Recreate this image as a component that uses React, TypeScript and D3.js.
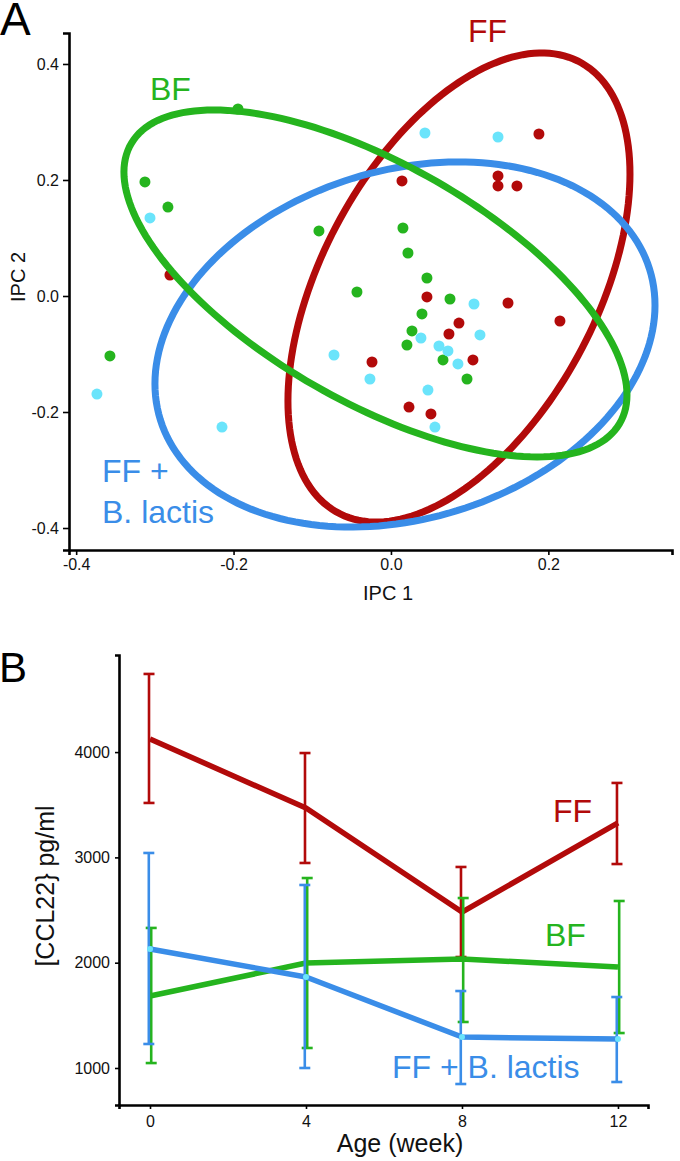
import { useEffect, useRef } from 'react'
import * as d3 from 'd3'

// Panel A: IPC scores per feeding group
const ffScores: [number, number][] = [
  [-0.2808, 0.0362], [0.014, 0.1983], [0.136, 0.2069], [0.136, 0.1897], [0.1601, 0.1897],
  [0.188, 0.2793], [0.0457, -0.0017], [0.1487, -0.0121], [0.2147, -0.0431], [0.0864, -0.0466],
  [0.0737, -0.0655], [0.1042, -0.1103], [-0.0241, -0.1138], [0.0229, -0.1914], [0.0508, -0.2034],
]
const bfScores: [number, number][] = [
  [-0.1944, 0.3224], [-0.3126, 0.1966], [-0.2834, 0.1534], [-0.0915, 0.1121], [-0.3571, -0.1034],
  [0.0152, 0.1172], [0.0216, 0.0741], [0.0457, 0.031], [-0.0432, 0.0069], [0.075, -0.0052],
  [0.0394, -0.031], [0.0267, -0.0603], [0.0203, -0.0845], [0.0661, -0.1103], [0.0966, -0.1431],
]
const blScores: [number, number][] = [
  [-0.3062, 0.1345], [-0.3736, -0.169], [-0.2147, -0.2259], [-0.0724, -0.1017], [0.0432, 0.281],
  [0.136, 0.2741], [0.1055, -0.0138], [0.0381, -0.0724], [0.1131, -0.0672], [0.061, -0.0862],
  [0.0724, -0.0948], [0.0851, -0.1172], [0.047, -0.1621], [0.0559, -0.2259], [-0.0267, -0.1431],
]

// ellipse centre, half-extent in x / y, and correlation (FF, BF, FF + B. lactis)
const ellipseCentre: [number, number][] = [[0.0864, 0.0147], [-0.0197, 0.0216], [0.0178, -0.0836]]
const ellipseSpread: [number, number][] = [[0.2173, 0.4043], [0.3196, 0.2991], [0.3177, 0.3147]]
const ellipseCorr = [0.484, -0.642, 0.215]

const ipc1Ticks = [-0.4, -0.2, 0, 0.2]
const ipc2Ticks = [-0.4, -0.2, 0, 0.2, 0.4]

// Panel B: CCL22 by age
const weeks = [0, 4, 8, 12]
const ffMean = [4124, 3469, 2481, 3327]
const ffUpper = [4742, 3991, 2909, 3707]
const ffLower = [3517, 2947, 2054, 2937]
const bfMean = [1684, 1997, 2035, 1959]
const bfUpper = [2330, 2804, 2614, 2586]
const bfLower = [1047, 1190, 1437, 1332]
const blMean = [2130, 1864, 1294, 1275]
const blUpper = [3042, 2738, 1731, 1674]
const blLower = [1228, 1000, 848, 867]
const ccl22Ticks = [1000, 2000, 3000, 4000]

const RED = '#b20a0a'
const GREEN = '#25b41e'
const BLUE = '#3a8de8'
const CYAN = '#6ae4fb'
const FONT = '"Liberation Sans", Arial, Helvetica, sans-serif'

export default function App() {
  const svgRef = useRef<SVGSVGElement>(null)

  useEffect(() => {
    if (!svgRef.current) return
    document.body.style.margin = '0'
    const svg = d3.select(svgRef.current)
    svg.selectAll('*').remove()
    svg.attr('width', 680).attr('height', 1161).style('font-family', FONT)

    // ---------- Panel A ----------
    const xA = d3.scaleLinear().domain([-0.4091, 0.3571]).range([69, 672])
    const yA = d3.scaleLinear().domain([-0.4379, 0.4534]).range([550, 33])

    const styleAxis = (g: d3.Selection<SVGGElement, unknown, null, undefined>, size: number) => {
      g.select('.domain').attr('stroke', '#000').attr('stroke-width', 2.6)
      g.selectAll('.tick line').attr('stroke', '#000').attr('stroke-width', 1.6)
      g.selectAll('.tick text').attr('fill', '#111').attr('font-size', size).attr('font-family', FONT)
    }

    const fmtA = (d: d3.NumberValue) => d3.format('.1f')(d as number).replace('\u2212', '-')

    svg.append('g')
      .attr('transform', 'translate(0,550)')
      .call(d3.axisBottom(xA).tickValues(ipc1Ticks).tickFormat(fmtA).tickSizeOuter(0).tickSize(5).tickPadding(4))
      .call((g) => styleAxis(g, 16))
    svg.append('g')
      .attr('transform', 'translate(69,0)')
      .call(d3.axisLeft(yA).tickValues(ipc2Ticks).tickFormat(fmtA).tickSizeOuter(0).tickSize(6).tickPadding(4))
      .call((g) => styleAxis(g, 16))

    const groups = [
      { pts: ffScores, colour: RED },
      { pts: bfScores, colour: GREEN },
      { pts: blScores, colour: CYAN },
    ]
    groups.forEach((grp) => {
      svg.append('g')
        .selectAll('circle')
        .data(grp.pts)
        .join('circle')
        .attr('cx', (d) => xA(d[0]))
        .attr('cy', (d) => yA(d[1]))
        .attr('r', 5.5)
        .attr('fill', grp.colour)
    })

    // confidence ellipses: red, blue, green (green on top)
    const ellipseColour = [RED, GREEN, BLUE]
    const ts = d3.range(0, 2 * Math.PI, Math.PI / 90)
    const ellipseLine = d3.line<number[]>().x((d) => xA(d[0])).y((d) => yA(d[1])).curve(d3.curveLinearClosed)
    ;[0, 2, 1].forEach((i) => {
      const [cx, cy] = ellipseCentre[i]
      const [ex, ey] = ellipseSpread[i]
      const r = ellipseCorr[i]
      const pts = ts.map((t) => [cx + ex * Math.cos(t), cy + ey * (r * Math.cos(t) + Math.sqrt(1 - r * r) * Math.sin(t))])
      svg.append('path')
        .datum(pts)
        .attr('d', ellipseLine)
        .attr('fill', 'none')
        .attr('stroke', ellipseColour[i])
        .attr('stroke-width', 7)
    })

    // group labels
    svg.append('text').attr('x', 468).attr('y', 42).attr('fill', RED).attr('font-size', 32).text('FF')
    svg.append('text').attr('x', 150).attr('y', 100).attr('fill', GREEN).attr('font-size', 32).text('BF')
    svg.append('text').attr('x', 102).attr('y', 482).attr('fill', BLUE).attr('font-size', 32).text('FF +')
    svg.append('text').attr('x', 102).attr('y', 523).attr('fill', BLUE).attr('font-size', 32).text('B. lactis')

    // axis titles
    svg.append('text').attr('x', 388).attr('y', 600).attr('text-anchor', 'middle')
      .attr('font-size', 20).attr('fill', '#111').text('IPC 1')
    svg.append('text').attr('transform', 'translate(25,277) rotate(-90)').attr('text-anchor', 'middle')
      .attr('font-size', 20).attr('fill', '#111').text('IPC 2')

    svg.append('text').attr('x', 0).attr('y', 35).attr('font-size', 46).attr('fill', '#000').text('A')

    // ---------- Panel B ----------
    const xB = d3.scaleLinear().domain([-0.795, 12.77]).range([119, 648])
    const yB = d3.scaleLinear().domain([648.6, 4922]).range([1105, 655])

    svg.append('g')
      .attr('transform', 'translate(0,1105)')
      .call(d3.axisBottom(xB).tickValues(weeks).tickFormat(d3.format('d')).tickSizeOuter(0).tickSize(4).tickPadding(7))
      .call((g) => styleAxis(g, 16))
    svg.append('g')
      .attr('transform', 'translate(119,0)')
      .call(d3.axisLeft(yB).tickValues(ccl22Ticks).tickFormat(d3.format('d')).tickSizeOuter(0).tickSize(4).tickPadding(5))
      .call((g) => styleAxis(g, 16))

    const series = [
      { mean: ffMean, upper: ffUpper, lower: ffLower, colour: RED, dodge: -1, dot: null as string | null },
      { mean: bfMean, upper: bfUpper, lower: bfLower, colour: GREEN, dodge: 1.2, dot: null as string | null },
      { mean: blMean, upper: blUpper, lower: blLower, colour: BLUE, dodge: -1.2, dot: CYAN },
    ]
    const meanLine = d3.line<number>().x((_, i) => xB(weeks[i])).y((d) => yB(d))

    series.forEach((s) => {
      const g = svg.append('g')
      weeks.forEach((w, i) => {
        const x = xB(w) + s.dodge
        g.append('line').attr('x1', x).attr('x2', x)
          .attr('y1', yB(s.upper[i])).attr('y2', yB(s.lower[i]))
          .attr('stroke', s.colour).attr('stroke-width', 2.6)
        ;[s.upper[i], s.lower[i]].forEach((v) => {
          g.append('line').attr('x1', x - 5.5).attr('x2', x + 5.5)
            .attr('y1', yB(v)).attr('y2', yB(v))
            .attr('stroke', s.colour).attr('stroke-width', 2.6)
        })
      })
      g.append('path')
        .datum(s.mean)
        .attr('d', meanLine)
        .attr('fill', 'none')
        .attr('stroke', s.colour)
        .attr('stroke-width', 5.5)
        .attr('stroke-linejoin', 'round')
      if (s.dot) {
        g.selectAll('circle')
          .data(s.mean)
          .join('circle')
          .attr('cx', (_, i) => xB(weeks[i]))
          .attr('cy', (d) => yB(d))
          .attr('r', 3)
          .attr('fill', s.dot)
      }
    })

    svg.append('text').attr('x', 553).attr('y', 822).attr('fill', RED).attr('font-size', 32).text('FF')
    svg.append('text').attr('x', 545).attr('y', 946).attr('fill', GREEN).attr('font-size', 32).text('BF')
    svg.append('text').attr('x', 392).attr('y', 1078).attr('fill', BLUE).attr('font-size', 32).text('FF + B. lactis')

    svg.append('text').attr('x', 400).attr('y', 1152).attr('text-anchor', 'middle')
      .attr('font-size', 25).attr('fill', '#111').text('Age (week)')
    svg.append('text').attr('transform', 'translate(54,886) rotate(-90)').attr('text-anchor', 'middle')
      .attr('font-size', 25).attr('fill', '#111').text('[CCL22} pg/ml')

    svg.append('text').attr('x', -1).attr('y', 682).attr('font-size', 42).attr('fill', '#000').text('B')
  }, [])

  return <svg ref={svgRef} style={{ display: 'block', position: 'absolute', left: 0, top: 0 }}></svg>
}
